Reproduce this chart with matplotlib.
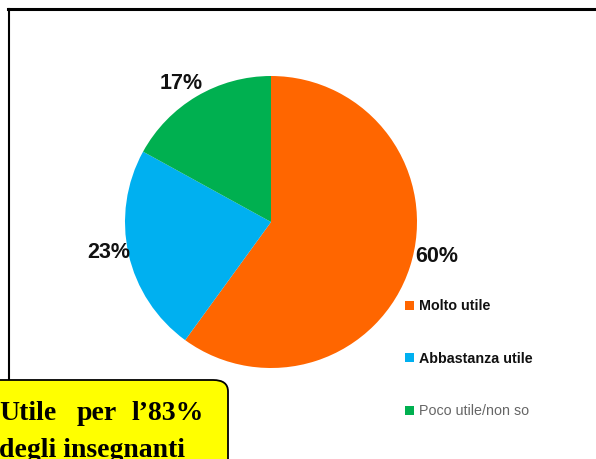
import matplotlib.pyplot as plt
from matplotlib.lines import Line2D
from matplotlib.patches import FancyBboxPatch, Patch

# data
labels = ['Molto utile', 'Abbastanza utile', 'Poco utile/non so']
values = [60, 23, 17]
colors = ['#FF6600', '#00B0F0', '#00B050']

W, H = 596, 459
fig = plt.figure(figsize=(W / 100, H / 100), dpi=100)
fig.patch.set_facecolor('white')

# pie axes: centre at (271, 222) px, radius 146 px
cx, cy, r = 271, 222, 146
ax = fig.add_axes([(cx - r) / W, (H - cy - r) / H, 2 * r / W, 2 * r / H])
wedges, texts, autotexts = ax.pie(values, colors=colors, startangle=90, counterclock=False,
                                  autopct='%1.0f%%', pctdistance=1.15,
                                  textprops=dict(fontsize=15.5, fontweight='bold',
                                                 family='Liberation Sans', color='#111111'))
ax.set_xlim(-1, 1)
ax.set_ylim(-1, 1)
# small nudges so the labels sit where the original puts them
nudges = [(0.04, 0.12), (0.01, 0.04), (-0.03, -0.04)]
for t, (dx, dy) in zip(autotexts, nudges):
    x, y = t.get_position()
    t.set_position((x + dx, y + dy))

# frame lines (top and left)
fig.add_artist(Line2D([8 / W, 1], [1 - 9 / H, 1 - 9 / H], color='black', lw=2.2))
fig.add_artist(Line2D([9 / W, 9 / W], [1 - 9 / H, 1 - 385 / H], color='black', lw=1.5))

# legend
handles = [Patch(facecolor=c, edgecolor='none') for c in colors]
leg = fig.legend(handles, labels, loc='upper left', frameon=False,
                 bbox_to_anchor=(398 / W, 1 - 292 / H), bbox_transform=fig.transFigure,
                 borderpad=0, handlelength=0.6, handleheight=0.6, handletextpad=0.35,
                 labelspacing=2.7, prop=dict(family='Liberation Sans', size=10.3))
for i, t in enumerate(leg.get_texts()):
    if i < 2:
        t.set_fontweight('bold')
        t.set_color('#111111')
    else:
        t.set_color('#666666')

# yellow note box
box = FancyBboxPatch((-20 / W, -20 / H), 248 / W, (459 - 380 + 20) / H,
                     boxstyle='round,pad=0,rounding_size=0.025', transform=fig.transFigure,
                     facecolor='#FFFF00', edgecolor='black', lw=1.3, zorder=5)
fig.add_artist(box)
serif = dict(family='Liberation Serif', fontweight='bold', fontsize=20, zorder=6)
fig.text(-1 / W, 1 - 420 / H, 'Utile', ha='left', va='baseline', **serif)
fig.text(97 / W, 1 - 420 / H, 'per', ha='center', va='baseline', **serif)
fig.text(204 / W, 1 - 420 / H, 'l\u201983%', ha='right', va='baseline', **serif)
fig.text(-1 / W, 1 - 457 / H, 'degli insegnanti', ha='left', va='baseline', **serif)

fig.savefig('out.png', dpi=100)
